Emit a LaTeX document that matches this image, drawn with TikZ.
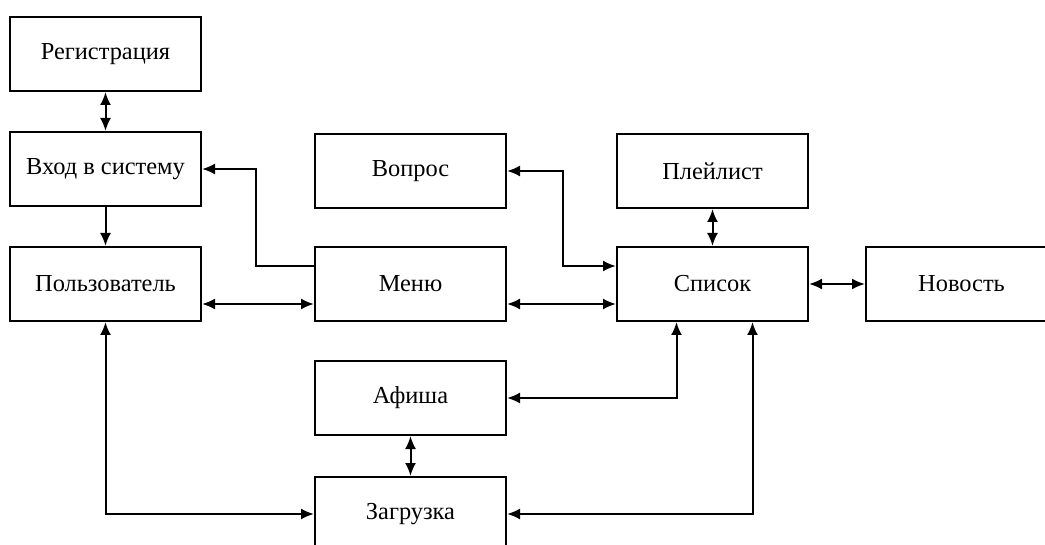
\documentclass[tikz,border=0pt]{standalone}
\usepackage{fontspec}
\setmainfont{Liberation Serif}
\usetikzlibrary{arrows.meta}
\tikzset{
  block/.style={draw, line width=1pt, minimum width=95.5pt, minimum height=37pt,
    inner sep=2pt, font=\fontsize{12.2}{14}\selectfont},
  link/.style={line width=1pt},
  tip/.tip={Latex[length=6.5pt,width=5.5pt]}
}
\begin{document}
\begin{tikzpicture}[x=0.5pt,y=-0.5pt]
\useasboundingbox (0,0) rectangle (1045,545);
\clip (0,0) rectangle (1045,545);
% left column
\node[block] (reg) at (105.5,54) {Регистрация};
\node[block] (login) at (105.5,169) {Вход в систему};
\node[block] (user) at (105.5,284) {Пользователь};
% middle column
\node[block] (question) at (410.5,171) {Вопрос};
\node[block] (menu) at (410.5,284) {Меню};
\node[block] (poster) at (410.5,398) {Афиша};
\node[block] (upload) at (410.5,514) {Загрузка};
% right part
\node[block] (playlist) at (712.5,171) {Плейлист};
\node[block] (list) at (712.5,284) {Список};
\node[block] (news) at (961.5,284) {Новость};
% edit here for the links
\draw[link,tip-tip] (reg) -- (login);
\draw[link,-tip] (login) -- (user);
\draw[link,-tip] ([yshift=9pt]menu.west) -- ++(-58,0) |- (login.east);
\draw[link,tip-tip] ([yshift=-10pt]user.east) -- ([yshift=-10pt]menu.west);
\draw[link,tip-tip] (question.east) -- ++(56,0) |- ([yshift=9pt]list.west);
\draw[link,tip-tip] ([yshift=-10pt]menu.east) -- ([yshift=-10pt]list.west);
\draw[link,tip-tip] (playlist) -- (list);
\draw[link,tip-tip] (list) -- (news);
\draw[link,tip-tip] (poster.east) -| ([xshift=-18pt]list.south);
\draw[link,tip-tip] (upload.east) -| ([xshift=20pt]list.south);
\draw[link,tip-tip] (poster) -- (upload);
\draw[link,tip-tip] (user.south) |- (upload.west);
\end{tikzpicture}
\end{document}
